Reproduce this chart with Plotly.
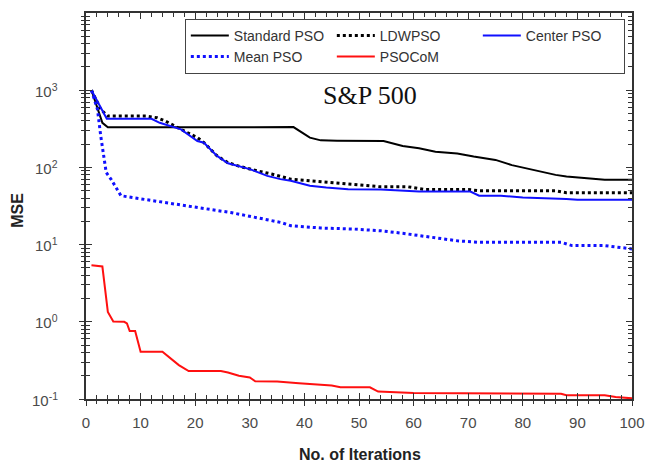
import math
import plotly.graph_objects as go

# ---- data (iteration, MSE) breakpoints ----
std_x = [1, 3, 4, 20, 38, 41, 43, 46, 54.5, 58, 61, 64, 68, 71, 75, 78, 80, 83, 86, 88, 92, 95, 100]
std_y = [1000, 378, 330, 330, 333, 243, 224, 222, 220, 189, 177, 160, 151, 138, 125, 107, 99, 88, 80, 76, 72, 69, 69]

ldw_x = [1, 2.7, 4, 11, 13, 14.5, 17.4, 20.4, 21.6, 24, 26, 28, 31.4, 34, 37.5, 43, 48, 54, 59, 62, 70, 72, 86, 88, 100]
ldw_y = [1000, 564, 462, 462, 440, 400, 311, 243, 209, 141, 115, 104, 90, 82, 70.5, 65.6, 61.8, 56, 56, 51.7, 51.7, 49.8, 49.8, 46.9, 46.9]

ctr_x = [1, 3.8, 12, 13.5, 17.4, 20.4, 21.6, 24, 26, 30, 33.2, 35.6, 37.5, 41, 44, 48, 54, 61, 70.4, 72, 76, 80, 88, 90, 100]
ctr_y = [1000, 426, 426, 378, 311, 220, 209, 141, 113, 95, 77.6, 70.5, 67, 57.7, 54.8, 52.3, 51.6, 48.7, 48.7, 42.9, 42.9, 40.7, 38.9, 38, 38]

mean_x = [1, 2.1, 2.7, 3.7, 4.6, 6.4, 8.2, 14.3, 20.4, 26.5, 32.6, 35.6, 37.5, 43, 49, 54, 58, 61, 64, 68, 72, 87, 89, 95, 100]
mean_y = [1000, 564, 255, 86, 70, 43, 41, 35, 30, 26, 21.4, 19.4, 17.6, 16.4, 15.9, 15.1, 14, 13.1, 12.1, 11.2, 10.7, 10.7, 9.7, 9.7, 8.8]

com_x = [1, 3, 4, 5, 7, 7.5, 8, 9, 10, 14, 17, 18.8, 24.7, 26, 28, 30, 31, 35, 39, 45, 46.6, 52, 53.5, 60, 87, 88, 95, 97, 100]
com_y = [5.4, 5.2, 1.34, 1.01, 1.0, 0.95, 0.76, 0.76, 0.41, 0.41, 0.275, 0.23, 0.23, 0.22, 0.2, 0.19, 0.17, 0.168, 0.16, 0.15, 0.142, 0.142, 0.125, 0.12, 0.117, 0.112, 0.112, 0.106, 0.102]

series_names = ["Standard PSO", "LDWPSO", "Center PSO", "Mean PSO", "PSOCoM"]

y_tickvals = [0.1, 1, 10, 100, 1000]
y_ticktext = ["10<sup>-1</sup>", "10<sup>0</sup>", "10<sup>1</sup>", "10<sup>2</sup>", "10<sup>3</sup>"]
y_minor = [m * 10 ** k for k in range(-1, 4) for m in range(2, 10)]

TICKFONT = dict(family="Arial, Liberation Sans, sans-serif", size=15, color="#4a4a4a")
AXC = "#333333"

fig = go.Figure()
fig.add_trace(go.Scatter(x=std_x, y=std_y, name=series_names[0], mode="lines",
                         line=dict(color="#000000", width=2)))
fig.add_trace(go.Scatter(x=ldw_x, y=ldw_y, name=series_names[1], mode="lines",
                         line=dict(color="#000000", width=3, dash="dot")))
fig.add_trace(go.Scatter(x=ctr_x, y=ctr_y, name=series_names[2], mode="lines",
                         line=dict(color="#1010ff", width=2)))
fig.add_trace(go.Scatter(x=mean_x, y=mean_y, name=series_names[3], mode="lines",
                         line=dict(color="#1010ff", width=3, dash="dot")))
fig.add_trace(go.Scatter(x=com_x, y=com_y, name=series_names[4], mode="lines",
                         line=dict(color="#ff1010", width=2)))
# helper trace for the overlay axes (outside half of crossing ticks)
fig.add_trace(go.Scatter(x=[None], y=[None], xaxis="x2", yaxis="y2", showlegend=False,
                         hoverinfo="skip"))

# y tick labels placed with the y scale (log axis -> annotation y in log10 units)
annotations = [
    dict(text=t, x=-0.048, xref="paper", xanchor="right", y=math.log10(v), yref="y",
         yanchor="middle", showarrow=False, font=TICKFONT)
    for v, t in zip(y_tickvals, y_ticktext)
]
annotations += [
    dict(text="S&P 500", x=0.52, y=0.828, xref="paper", yref="paper", showarrow=False,
         font=dict(family="Liberation Serif, Times New Roman, serif", size=26, color="#111111")),
    dict(text="<b>No. of Iterations</b>", x=0.502, y=-0.145, xref="paper", yref="paper",
         showarrow=False, xanchor="center", yanchor="middle",
         font=dict(family="Arial, Liberation Sans, sans-serif", size=16, color="#222222")),
    dict(text="<b>MSE</b>", x=-0.126, y=0.488, xref="paper", yref="paper", textangle=-90,
         showarrow=False, xanchor="center", yanchor="middle",
         font=dict(family="Arial, Liberation Sans, sans-serif", size=16, color="#222222")),
]

fig.update_layout(
    width=645, height=464,
    margin=dict(l=86, r=13, t=13, b=65, autoexpand=False),
    paper_bgcolor="white", plot_bgcolor="white",
    xaxis=dict(range=[0, 100], tick0=0, dtick=10, ticks="inside", ticklen=6, tickwidth=1.3,
               tickcolor=AXC, showline=True, linecolor=AXC, linewidth=1.6, mirror="allticks",
               showgrid=False, zeroline=False, tickfont=TICKFONT, ticklabelstandoff=9,
               ticklabeloverflow="allow", automargin=False,
               minor=dict(dtick=2, ticks="inside", ticklen=4, tickwidth=1.2, tickcolor=AXC,
                          showgrid=False)),
    yaxis=dict(type="log", range=[-1, 4], tickmode="array", tickvals=y_tickvals,
               showticklabels=False,
               ticks="inside", ticklen=6, tickwidth=1.3, tickcolor=AXC, showline=True,
               linecolor=AXC, linewidth=1.6, mirror="allticks", showgrid=False, zeroline=False,
               automargin=False,
               minor=dict(tickmode="array", tickvals=y_minor, ticks="inside", ticklen=4,
                          tickwidth=1.2, tickcolor=AXC, showgrid=False)),
    xaxis2=dict(overlaying="x", side="bottom", range=[0, 100], tick0=0, dtick=10, ticks="outside",
                ticklen=6, tickwidth=1.3, tickcolor=AXC, showticklabels=False, showline=False,
                showgrid=False, zeroline=False, automargin=False,
                minor=dict(dtick=2, ticks="outside", ticklen=4, tickwidth=1.2, tickcolor=AXC,
                           showgrid=False)),
    yaxis2=dict(overlaying="y", side="left", type="log", range=[-1, 4], tickmode="array",
                tickvals=y_tickvals, ticks="outside", ticklen=6, tickwidth=1.3, tickcolor=AXC,
                showticklabels=False, showline=False, showgrid=False, zeroline=False,
                automargin=False,
                minor=dict(tickmode="array", tickvals=y_minor, ticks="outside", ticklen=4,
                           tickwidth=1.2, tickcolor=AXC, showgrid=False)),
    legend=dict(orientation="h", x=0.181, y=0.985, xanchor="left", yanchor="top",
                bgcolor="white", bordercolor="#444444", borderwidth=1,
                entrywidth=93, entrywidthmode="pixels", itemwidth=38,
                font=dict(family="Arial, Liberation Sans, sans-serif", size=14, color="#333333")),
    showlegend=True,
    annotations=annotations,
)

fig.write_html("out.html")
